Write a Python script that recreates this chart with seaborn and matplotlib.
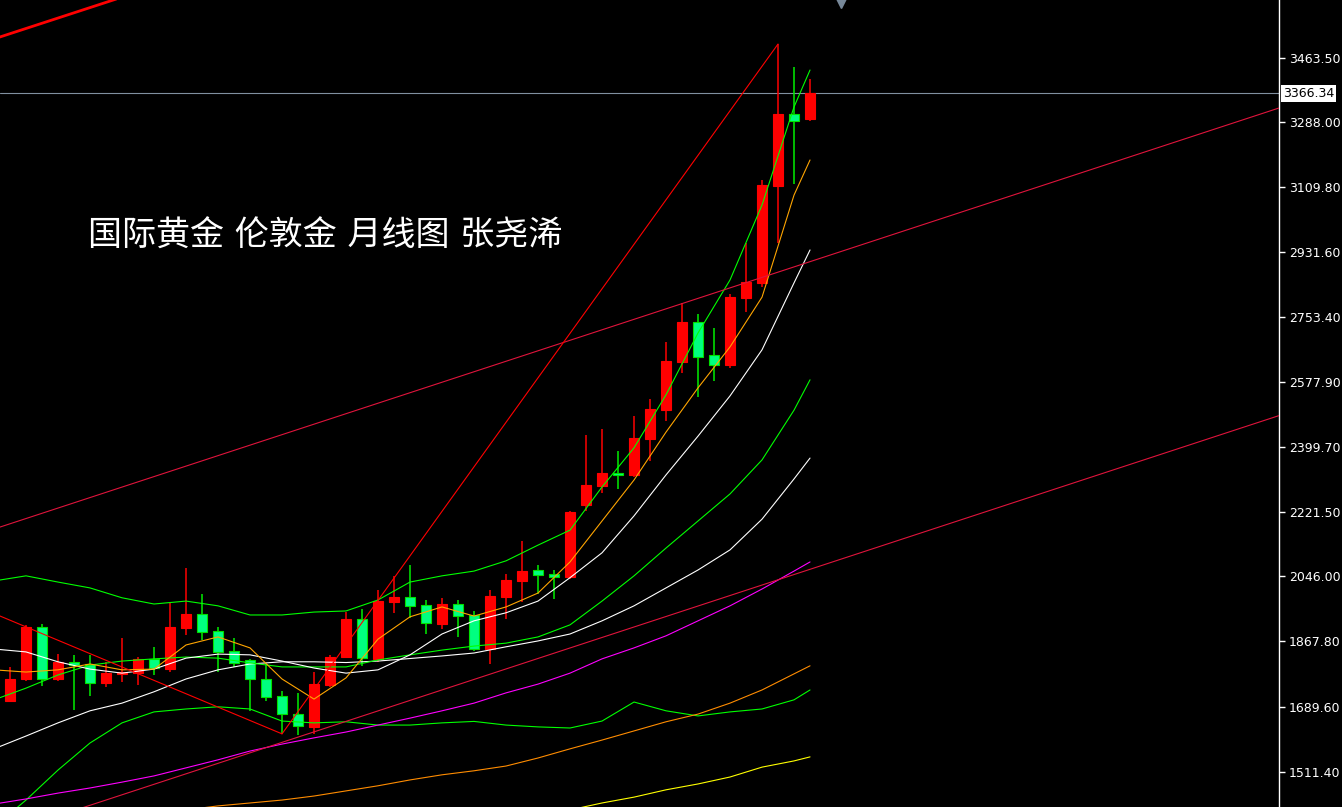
import matplotlib
matplotlib.use('Agg')
import matplotlib.pyplot as plt
import matplotlib.transforms as mtransforms
import pandas as pd
import seaborn as sns

# monthly candles, Apr 2021 - Jun 2025
opens = [1706, 1765, 1906, 1765, 1811, 1806, 1755, 1779, 1782, 1820,
         1793, 1905, 1943, 1896, 1842, 1817, 1765, 1718, 1669, 1635,
         1749, 1824, 1929, 1820, 1976, 1988, 1966, 1916, 1969, 1939,
         1846, 1990, 2034, 2063, 2052, 2045, 2241, 2294, 2329, 2323,
         2421, 2500, 2633, 2742, 2651, 2624, 2808, 2849, 3114, 3309, 3296]
highs = [1797, 1912, 1915, 1834, 1831, 1831, 1812, 1877, 1824, 1852,
         1974, 2069, 1997, 1906, 1876, 1819, 1808, 1732, 1727, 1784,
         1831, 1949, 1956, 2008, 2047, 2077, 1981, 1986, 1981, 1951,
         2008, 2052, 2142, 2077, 2063, 2224, 2432, 2449, 2387, 2485,
         2531, 2687, 2792, 2763, 2724, 2818, 2956, 3129, 3501, 3439, 3405]
lows = [1704, 1760, 1747, 1760, 1680, 1719, 1744, 1758, 1749, 1776,
        1785, 1885, 1872, 1785, 1799, 1678, 1706, 1615, 1612, 1615,
        1742, 1822, 1801, 1812, 1946, 1931, 1888, 1901, 1881, 1842,
        1806, 1929, 1975, 1997, 1984, 2038, 2224, 2274, 2285, 2318,
        2362, 2469, 2602, 2535, 2581, 2615, 2769, 2838, 2956, 3118, 3291]
closes = [1766, 1906, 1765, 1811, 1803, 1755, 1782, 1783, 1819, 1794,
          1907, 1943, 1894, 1840, 1810, 1764, 1717, 1669, 1637, 1751,
          1824, 1929, 1822, 1979, 1988, 1965, 1917, 1970, 1937, 1846,
          1992, 2036, 2060, 2050, 2045, 2222, 2295, 2328, 2323, 2425,
          2503, 2634, 2742, 2646, 2624, 2810, 2850, 3116, 3310, 3291, 3366.34]

# indicator lines, sampled every second candle
line_idx = list(range(-1, 50, 2)) + [50]
band_up = [2033, 2047, 2030, 2014, 1987, 1970, 1978, 1965, 1940, 1940, 1948, 1951, 1981, 2030,
           2047, 2060, 2088, 2131, 2172, 2290, 2397, 2542, 2711, 2856, 3061, 3329, 3430]
ma_fast = [1790, 1784, 1790, 1806, 1790, 1792, 1858, 1880, 1850, 1765, 1710, 1768, 1874, 1935,
           1962, 1937, 1962, 2000, 2085, 2197, 2309, 2440, 2561, 2673, 2809, 3088, 3184]
ma_mid = [1847, 1839, 1812, 1792, 1781, 1792, 1822, 1833, 1831, 1814, 1795, 1781, 1790, 1831,
          1888, 1924, 1946, 1978, 2042, 2110, 2211, 2323, 2429, 2539, 2665, 2848, 2938]
band_mid = [1708, 1740, 1776, 1803, 1814, 1820, 1825, 1822, 1809, 1798, 1798, 1798, 1817, 1831,
            1844, 1855, 1863, 1880, 1913, 1978, 2047, 2123, 2197, 2271, 2364, 2500, 2583]
ma_slow = [1574, 1609, 1645, 1678, 1699, 1730, 1765, 1790, 1806, 1812, 1812, 1810, 1814, 1821,
           1828, 1836, 1853, 1869, 1888, 1924, 1965, 2014, 2063, 2118, 2202, 2312, 2369]
band_low = [1360, 1434, 1516, 1590, 1645, 1675, 1683, 1689, 1683, 1650, 1645, 1648, 1639, 1639,
            1645, 1649, 1639, 1634, 1631, 1650, 1702, 1678, 1664, 1675, 1683, 1708, 1735]
ma_60 = [1423, 1437, 1453, 1467, 1483, 1500, 1522, 1544, 1568, 1587, 1604, 1620, 1639, 1658,
         1678, 1699, 1727, 1751, 1781, 1820, 1850, 1883, 1924, 1965, 2011, 2060, 2085]
ma_120_idx = list(range(9, 50, 2)) + [50]
ma_120 = [1396, 1407, 1418, 1426, 1434, 1445, 1459, 1473, 1489, 1503, 1514,
          1527, 1549, 1574, 1598, 1623, 1648, 1669, 1699, 1735, 1779, 1801]
ma_240_idx = list(range(35, 50, 2)) + [50]
ma_240 = [1407, 1426, 1442, 1462, 1478, 1497, 1524, 1541, 1552]

# hand-drawn trend lines: (candle index, price) end points
chan_top = ([-1, 10], [3515, 3672])
chan_mid = ([-1, 80], [2175, 3336])
chan_low = ([0, 80], [1348, 2495])
fall_line = ([-1, 17], [1944, 1615])
rise_line = ([17, 48], [1615, 3501])

yticks = [1511.40, 1689.60, 1867.80, 2046.00, 2221.50, 2399.70,
          2577.90, 2753.40, 2931.60, 3109.80, 3288.00, 3463.50]
last_price = 3366.34
title = '国际黄金 伦敦金 月线图 张尧浠'

sns.set_theme(style='dark')
plt.rcParams['font.family'] = ['DejaVu Sans', 'Noto Sans CJK SC']

fig = plt.figure(figsize=(13.42, 8.07), dpi=100, facecolor='black')
ax = fig.add_axes([0, 0, 1279 / 1342, 1])
ax.set_facecolor('black')

df = pd.DataFrame({'o': opens, 'h': highs, 'l': lows, 'c': closes})
df['i'] = range(len(df))
df['up'] = df['c'] >= df['o']
df['bottom'] = df[['o', 'c']].min(axis=1)
df['height'] = (df['c'] - df['o']).abs().clip(lower=3)

up = df[df['up']]
dn = df[~df['up']]
ax.vlines(up['i'], up['l'], up['h'], color='#ff0000', lw=1.1, zorder=2)
ax.vlines(dn['i'], dn['l'], dn['h'], color='#00ee00', lw=1.1, zorder=2)
ax.bar(up['i'], up['height'], bottom=up['bottom'], width=0.62,
       color='#ff0000', edgecolor='#ff0000', lw=0.8, zorder=3)
ax.bar(dn['i'], dn['height'], bottom=dn['bottom'], width=0.62,
       color='#00ff80', edgecolor='#00e000', lw=0.8, zorder=3)

lines = [
    (line_idx, band_low, '#00ff00'),
    (line_idx, ma_60, '#ff00ff'),
    (ma_120_idx, ma_120, '#ff8c00'),
    (ma_240_idx, ma_240, '#ffff00'),
    (line_idx, ma_slow, '#ffffff'),
    (line_idx, band_mid, '#00ff00'),
    (line_idx, ma_mid, '#ffffff'),
    (line_idx, ma_fast, '#ffa500'),
    (line_idx, band_up, '#00ff00'),
]
for xs, ys, col in lines:
    sns.lineplot(x=xs, y=ys, ax=ax, color=col, lw=0.8, estimator=None,
                 sort=False, legend=False, zorder=4)

for (xs, ys), col, w in [(chan_top, '#ff0000', 2.0), (chan_mid, '#e0143c', 0.8),
                         (chan_low, '#e0143c', 0.8), (fall_line, '#ff0000', 0.8),
                         (rise_line, '#ff0000', 0.8)]:
    sns.lineplot(x=xs, y=ys, ax=ax, color=col, lw=w, estimator=None,
                 sort=False, legend=False, zorder=4)

ax.axhline(last_price, color='#8090a0', lw=0.8, zorder=1)

ax.set_xlim(-0.625, 79.31)
ax.set_ylim(1415, 3621.4)
ax.set_xticks([])
ax.set_yticks(yticks)
ax.set_yticklabels([f'{v:.2f}' for v in yticks])
ax.yaxis.tick_right()
ax.tick_params(axis='y', colors='white', labelcolor='white', length=4, width=1,
               pad=3, labelsize=9, right=True, left=False)
ax.set_xlabel('')
ax.set_ylabel('')
for side in ['top', 'left', 'bottom']:
    ax.spines[side].set_visible(False)
ax.spines['right'].set_color('white')
ax.spines['right'].set_linewidth(1)
ax.grid(False)

tr = mtransforms.blended_transform_factory(ax.transAxes, ax.transData)
ax.text(1.003, last_price, f'{last_price:.2f}', transform=tr, ha='left', va='center',
        color='black', fontsize=9, clip_on=False, zorder=6,
        bbox=dict(facecolor='white', edgecolor='none', pad=1.5))

tr2 = mtransforms.blended_transform_factory(ax.transData, ax.transAxes)
ax.plot([51.94], [1.0], marker='v', markersize=12, color='#778899',
        transform=tr2, clip_on=False, zorder=6)

ax.text(88 / 1279, 1 - 236 / 807, title, transform=ax.transAxes, ha='left', va='center',
        color='white', fontsize=24.5, zorder=6)

fig.savefig('out.png', dpi=100, facecolor='black')
